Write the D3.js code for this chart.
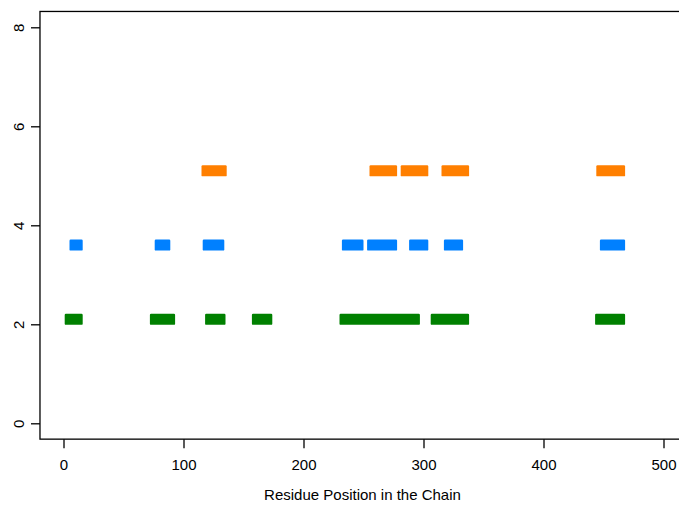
<!DOCTYPE html>
<meta charset="utf-8">
<title>Residue Position in the Chain</title>
<style type="text/css">
  body { margin: 0; background: #fff; }
  text { font-family: "Liberation Sans", Arial, sans-serif; font-size: 15px; fill: #000; }
</style>
<body>
<script src="https://d3js.org/d3.v7.min.js"></script>
<div id="chart"></div>
<script>
// segments per track: start / end residue, track level on y
var greenStart  = [1, 72, 118, 157, 230, 306, 443];
var greenEnd    = [16, 93, 135, 174, 297, 338, 468];
var blueStart   = [5, 76, 116, 232, 253, 288, 317, 447];
var blueEnd     = [16, 89, 134, 250, 278, 304, 333, 468];
var orangeStart = [115, 255, 281, 315, 444];
var orangeEnd   = [136, 278, 304, 338, 468];
var levels = [2.1, 3.6, 5.1];
var colors = ["#008000", "#0080FF", "#FF7F00"];

var xTicks = [0, 100, 200, 300, 400, 500];
var yTicks = [0, 2, 4, 6, 8];

var width = 679, height = 505;

var svg = d3.select("#chart")
  .append("svg")
    .attr("width", width)
    .attr("height", height);

// R-style scales with 4% padding
var x = d3.scaleLinear().domain([0, 500]).range([63.5, 663.5]);
var y = d3.scaleLinear().domain([0, 8]).range([423.3, 27.3]);

var xLo = -19.6, xHi = 530, yLo = -0.32, yHi = 8.32;

// frame
svg.append("rect")
  .attr("x", x(xLo))
  .attr("y", y(yHi))
  .attr("width", x(xHi) - x(xLo))
  .attr("height", y(yLo) - y(yHi))
  .attr("fill", "none")
  .attr("stroke", "#000")
  .attr("stroke-width", 1.3);

// x axis
var xAxis = svg.append("g")
  .attr("transform", "translate(0," + y(yLo) + ")")
  .call(d3.axisBottom(x).tickValues(xTicks).tickSize(9).tickPadding(0));
xAxis.select(".domain").remove();
xAxis.selectAll("line").attr("stroke-width", 1.3);
xAxis.selectAll("text")
  .attr("y", 31).attr("dy", null)
  .style("font-size", "15px").attr("fill", "#000");

// y axis, labels rotated as in base R
var yAxis = svg.append("g")
  .attr("transform", "translate(" + x(xLo) + ",0)")
  .call(d3.axisLeft(y).tickValues(yTicks).tickSize(9).tickPadding(0));
yAxis.select(".domain").remove();
yAxis.selectAll("line").attr("stroke-width", 1.3);
yAxis.selectAll("text")
  .attr("x", null).attr("dy", null)
  .attr("text-anchor", "middle")
  .attr("transform", "translate(-11,0) rotate(-90)")
  .attr("dy", "-0.35em")
  .style("font-size", "15px")
  .attr("fill", "#000");

// x label
svg.append("text")
  .attr("x", x(250) - 1)
  .attr("y", 500)
  .attr("text-anchor", "middle")
  .text("Residue Position in the Chain");

// segments
var tracks = [
  {start: greenStart, end: greenEnd},
  {start: blueStart, end: blueEnd},
  {start: orangeStart, end: orangeEnd}
];
var segs = [];
tracks.forEach(function(t, i) {
  t.start.forEach(function(s, j) {
    segs.push({s: s, e: t.end[j], lvl: levels[i], col: colors[i]});
  });
});

var barH = 11;
svg.append("g").selectAll("rect")
  .data(segs)
  .enter()
  .append("rect")
    .attr("x", function(d) { return x(d.s); })
    .attr("y", function(d) { return y(d.lvl) - barH / 2; })
    .attr("width", function(d) { return x(d.e) - x(d.s); })
    .attr("height", barH)
    .attr("rx", 1.2)
    .attr("fill", function(d) { return d.col; });
</script>
</body>
